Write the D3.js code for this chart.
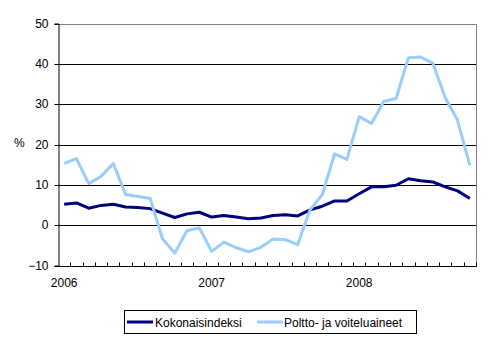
<!DOCTYPE html>
<html>
<head>
<meta charset="utf-8">
<script src="https://cdn.jsdelivr.net/npm/d3@7"></script>
<style>
  html, body { margin: 0; padding: 0; background: #fff; }
  svg text { font-family: "Liberation Sans", Arial, sans-serif; fill: #000; }
</style>
</head>
<body>
<svg id="chart" width="495" height="342"></svg>
<script>
// Monthly year-on-year change, %, January 2006 – October 2008
const months = d3.range(34).map(i => new Date(2006, i, 1));
const kokonaisindeksi = [
  5.2, 5.5, 4.2, 4.9, 5.2, 4.5, 4.4, 4.1, 3.0, 1.9, 2.8, 3.2,
  2.0, 2.4, 2.0, 1.6, 1.8, 2.4, 2.6, 2.3, 3.8, 4.7, 6.0, 6.0,
  7.8, 9.5, 9.5, 9.9, 11.5, 11.0, 10.7, 9.5, 8.5, 6.6
];
const polttoaineet = [
  15.3, 16.5, 10.3, 12.1, 15.3, 7.6, 7.1, 6.6, -3.4, -6.9, -1.3, -0.7,
  -6.5, -4.2, -5.6, -6.6, -5.5, -3.4, -3.6, -4.8, 3.8, 7.6, 17.7, 16.3,
  26.9, 25.2, 30.7, 31.4, 41.5, 41.7, 40.1, 31.6, 26.0, 14.8
];
const yTicks = [-10, 0, 10, 20, 30, 40, 50];
const yearLabels = ["2006", "2007", "2008"];
const seriesNames = ["Kokonaisindeksi", "Poltto- ja voiteluaineet"];
const seriesColors = ["#000080", "#99ccff"];

const svg = d3.select("#chart");
const plotLeft = 58, plotRight = 476, plotTop = 23.5, plotBottom = 265.5;

const x = d3.scaleBand().domain(d3.range(months.length)).range([plotLeft, plotRight]);
const y = d3.scaleLinear().domain([-10, 50]).range([plotBottom, plotTop]);

// horizontal gridlines
svg.append("g").selectAll("line").data(yTicks.filter(v => v > -10 && v < 50)).join("line")
  .attr("x1", plotLeft).attr("x2", plotRight)
  .attr("y1", d => Math.round(y(d)) + 0.5).attr("y2", d => Math.round(y(d)) + 0.5)
  .attr("stroke", "#000").attr("stroke-width", 1);

// top and right frame
svg.append("path")
  .attr("d", `M${plotLeft},${Math.round(plotTop) + 0.5}H${plotRight + 0.5}V${plotBottom}`)
  .attr("fill", "none").attr("stroke", "#808080").attr("stroke-width", 1);

// y axis
const yAxis = svg.append("g").attr("transform", `translate(${plotLeft + 0.5},0)`)
  .call(d3.axisLeft(y).tickValues(yTicks).tickSize(4).tickPadding(6).tickFormat(d3.format("d")));
yAxis.select(".domain").attr("stroke", "#000");
yAxis.selectAll(".tick line").attr("stroke", "#000");
yAxis.selectAll(".tick").attr("transform", d => `translate(0,${Math.round(y(d)) + 0.5})`);
yAxis.selectAll("text").attr("font-size", 12).attr("font-family", "Liberation Sans, Arial, sans-serif");

// x axis: inward ticks at month boundaries
const xAxisY = Math.round(plotBottom) + 0.5;
svg.append("line").attr("x1", plotLeft).attr("x2", plotRight + 0.5)
  .attr("y1", xAxisY).attr("y2", xAxisY).attr("stroke", "#000");
svg.append("g").selectAll("line").data(d3.range(1, months.length + 1)).join("line")
  .attr("x1", i => Math.round(plotLeft + i * x.step()) + 0.5)
  .attr("x2", i => Math.round(plotLeft + i * x.step()) + 0.5)
  .attr("y1", xAxisY).attr("y2", xAxisY - 4)
  .attr("stroke", "#000");

svg.append("g").selectAll("text").data(yearLabels).join("text")
  .attr("x", (d, i) => x(i * 12) + x.bandwidth() / 2)
  .attr("y", 287)
  .attr("text-anchor", "middle")
  .attr("font-size", 12)
  .text(d => d);

// unit label
svg.append("text").attr("x", 14).attr("y", 147).attr("font-size", 12).text("%");

// series lines
const line = d3.line().x((d, i) => x(i) + x.bandwidth() / 2).y(d => y(d));
[kokonaisindeksi, polttoaineet].forEach((data, k) => {
  svg.append("path").datum(data)
    .attr("d", line)
    .attr("fill", "none")
    .attr("stroke", seriesColors[k])
    .attr("stroke-width", 3)
    .attr("stroke-linejoin", "round");
});

// legend
const lg = svg.append("g");
lg.append("rect").attr("x", 124.5).attr("y", 310.5).attr("width", 292).attr("height", 23)
  .attr("fill", "#fff").attr("stroke", "#000");
const legendItems = [{ x: 127, tx: 155 }, { x: 257, tx: 284 }];
legendItems.forEach((it, k) => {
  lg.append("line").attr("x1", it.x).attr("x2", it.x + 26).attr("y1", 322).attr("y2", 322)
    .attr("stroke", seriesColors[k]).attr("stroke-width", 3);
  lg.append("text").attr("x", it.tx).attr("y", 326.5).attr("font-size", 12).text(seriesNames[k]);
});
</script>
</body>
</html>
